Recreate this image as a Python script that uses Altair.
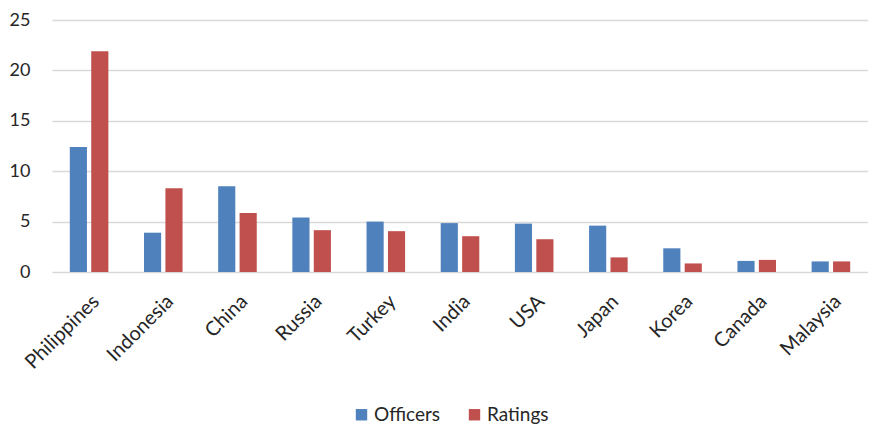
import altair as alt
import pandas as pd

countries = ["Philippines", "Indonesia", "China", "Russia", "Turkey", "India",
             "USA", "Japan", "Korea", "Canada", "Malaysia"]
officers = [12.4, 3.9, 8.5, 5.4, 5.0, 4.85, 4.8, 4.6, 2.35, 1.1, 1.05]
ratings = [21.9, 8.3, 5.85, 4.15, 4.05, 3.55, 3.25, 1.45, 0.85, 1.2, 1.05]
series = ["Officers", "Ratings"]
colors = ["#4F81BD", "#C0504D"]
y_ticks = [0, 5, 10, 15, 20, 25]

rows = []
for c, o, r in zip(countries, officers, ratings):
    rows.append({"country": c, "series": "Officers", "value": o})
    rows.append({"country": c, "series": "Ratings", "value": r})
df = pd.DataFrame(rows)

FONT = "Lato"

chart = alt.Chart(df).mark_bar().encode(
    x=alt.X("country:N", sort=countries,
            scale=alt.Scale(paddingInner=0.48, paddingOuter=0.24),
            axis=alt.Axis(title=None, labelAngle=-45, labelFontSize=20, labelColor="#262626",
                          ticks=False, domain=False, labelPadding=19, labelFont=FONT, grid=False)),
    xOffset=alt.XOffset("series:N", sort=series, scale=alt.Scale(paddingInner=0.2)),
    y=alt.Y("value:Q", scale=alt.Scale(domain=[0, 25]),
            axis=alt.Axis(values=y_ticks, title=None, domain=False, ticks=False, labelPadding=22,
                          gridColor="#d9d9d9", gridWidth=1.5, labelFontSize=18,
                          labelColor="#262626", labelFont=FONT)),
    color=alt.Color("series:N", scale=alt.Scale(domain=series, range=colors),
                    legend=alt.Legend(title=None, orient="none", legendX=300, legendY=385,
                                      direction="horizontal", symbolType="square", symbolSize=130,
                                      symbolStrokeWidth=0, labelFontSize=19, labelFont=FONT,
                                      labelColor="#262626", columnPadding=24, labelOffset=3)),
).properties(
    width=816, height=252,
    autosize=alt.AutoSizeParams(type="none"),
    padding={"left": 44, "top": 12, "right": 0, "bottom": 156},
).configure_view(stroke=None)

chart.save("out.html", embed_options={"renderer": "svg", "actions": False})
